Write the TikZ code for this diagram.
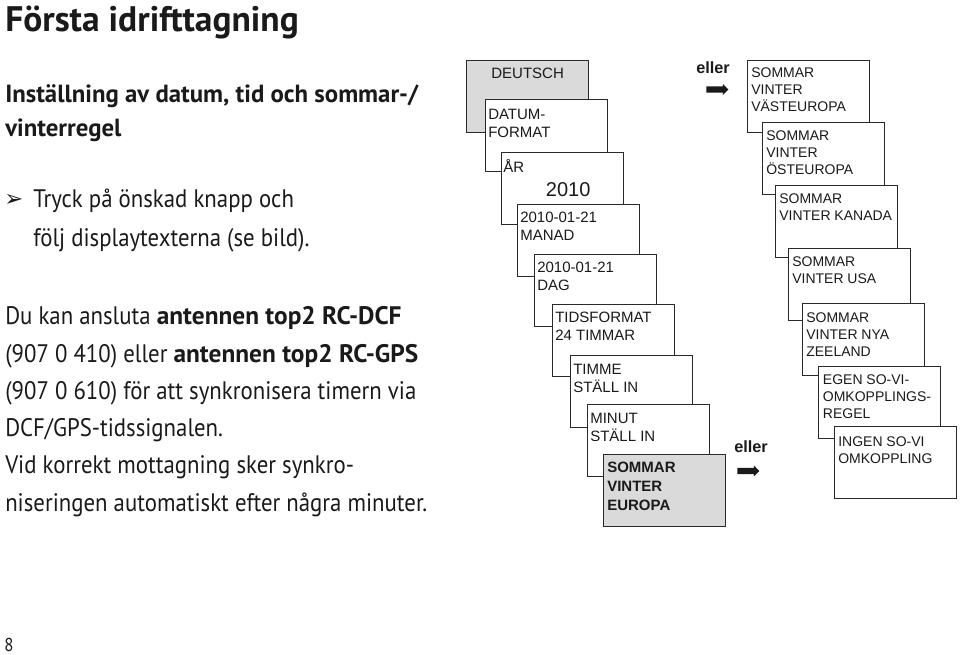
\documentclass[tikz,border=0pt]{standalone}
\usepackage{fontspec}
\setmainfont{Liberation Sans}
\newfontfamily\cond[FakeStretch=0.9, BoldFeatures={FakeStretch=1.0}]{PT Sans}
\newfontfamily\dejavu{DejaVu Sans}
\usetikzlibrary{shapes.arrows}
\definecolor{ink}{HTML}{1A1A1A}
\definecolor{boxline}{HTML}{2A2A2A}
\definecolor{panelgray}{HTML}{DADADA}
\newcommand\twol[2]{\vtop{\hbox{#1}\hbox{#2}}}
\newcommand\threel[3]{\vtop{\hbox{#1}\hbox{#2}\hbox{#3}}}
\tikzset{
  panel/.style={draw=boxline, line width=0.9pt, fill=white, minimum width=91.5pt,
    minimum height=54pt, inner sep=0pt, anchor=north west},
  graypanel/.style={panel, fill=panelgray},
  ltxt/.style={anchor=base west, inner sep=0pt, text=ink,
    font=\fontsize{11.25pt}{13.5pt}\selectfont},
  rtxt/.style={anchor=base west, inner sep=0pt, text=ink,
    font=\fontsize{10.5pt}{12.75pt}\selectfont},
  orword/.style={anchor=base west, inner sep=0pt, text=ink,
    font=\fontsize{12.2pt}{14pt}\selectfont\bfseries},
  blockarrow/.style={single arrow, fill=ink, draw=none, minimum height=16.5pt,
    inner sep=2.2pt, single arrow head extend=1.6pt, anchor=west},
  prose/.style={anchor=base west, inner sep=0pt, text=ink,
    font=\cond\fontsize{19pt}{22pt}\selectfont},
}
\begin{document}
\begin{tikzpicture}[x=0.75pt,y=-0.75pt]
\useasboundingbox (0,0) rectangle (960,655);
\fill[white] (0,0) rectangle (960,655);

% ---------- left text ----------
\node[prose, font=\cond\fontsize{26.6pt}{30pt}\selectfont\bfseries] (title) at (5,32) {Första idrifttagning};
\node[prose, font=\cond\fontsize{18.6pt}{22pt}\selectfont\bfseries] (sub1) at (5,103) {Inställning av datum, tid och sommar-/};
\node[prose, font=\cond\fontsize{18.6pt}{22pt}\selectfont\bfseries] (sub2) at (5,137) {vinterregel};
\node[prose, font=\dejavu\fontsize{17pt}{20pt}\selectfont] (bul) at (4,207) {➢};
\node[prose] (b1) at (33,208) {Tryck på önskad knapp och};
\node[prose] (b2) at (33,247) {följ displaytexterna (se bild).};
\node[prose] (p1) at (5,325) {Du kan ansluta \textbf{antennen top2 RC-DCF}};
\node[prose] (p2) at (5,363) {(907 0 410) eller \textbf{antennen top2 RC-GPS}};
\node[prose] (p3) at (5,400) {(907 0 610) för att synkronisera timern via};
\node[prose] (p4) at (5,437) {DCF/GPS-tidssignalen.};
\node[prose] (p5) at (5,474) {Vid korrekt mottagning sker synkro-};
\node[prose] (p6) at (5,512) {niseringen automatiskt efter några minuter.};
\node[prose, font=\cond\fontsize{14pt}{16pt}\selectfont] (pg) at (4,651) {8};

% ---------- left cascade ----------
\node[graypanel] (L0) at (466,60) {};
\node[ltxt, anchor=base] (L0t) at ([yshift=-14.25pt]L0.north) {DEUTSCH};
\node[panel] (L1) at (485,99) {};
\node[ltxt] (L1t) at ([xshift=2.25pt,yshift=-15.5pt]L1.north west) {\twol{DATUM-}{FORMAT}};
\node[panel] (L2) at (501,152) {};
\node[ltxt] (L2t) at ([xshift=1.5pt,yshift=-15.5pt]L2.north west) {ÅR};
\node[ltxt, font=\fontsize{15pt}{18pt}\selectfont] (L2v) at ([xshift=33.5pt,yshift=-33.75pt]L2.north west) {2010};
\node[panel] (L3) at (517,204) {};
\node[ltxt] (L3t) at ([xshift=2.25pt,yshift=-14.25pt]L3.north west) {\twol{2010-01-21}{MANAD}};
\node[panel] (L4) at (534,254) {};
\node[ltxt] (L4t) at ([xshift=2.25pt,yshift=-14.25pt]L4.north west) {\twol{2010-01-21}{DAG}};
\node[panel] (L5) at (552,304) {};
\node[ltxt] (L5t) at ([xshift=2.25pt,yshift=-14.25pt]L5.north west) {\twol{TIDSFORMAT}{24 TIMMAR}};
\node[panel] (L6) at (570,355) {};
\node[ltxt] (L6t) at ([xshift=2.25pt,yshift=-15pt]L6.north west) {\twol{TIMME}{STÄLL IN}};
\node[panel] (L7) at (587,404) {};
\node[ltxt] (L7t) at ([xshift=2.25pt,yshift=-15pt]L7.north west) {\twol{MINUT}{STÄLL IN}};
\node[graypanel] (L8) at (603,454) {};
\node[ltxt, font=\fontsize{11.25pt}{13.9pt}\selectfont\bfseries] (L8t) at ([xshift=3pt,yshift=-14.25pt]L8.north west) {\threel{SOMMAR}{VINTER}{EUROPA}};

% ---------- right cascade ----------
\node[panel] (R0) at (747,60) {};
\node[rtxt] (R0t) at ([xshift=3pt,yshift=-13.5pt]R0.north west) {\threel{SOMMAR}{VINTER}{VÄSTEUROPA}};
\node[panel] (R1) at (762,122) {};
\node[rtxt] (R1t) at ([xshift=3pt,yshift=-14.25pt]R1.north west) {\threel{SOMMAR}{VINTER}{ÖSTEUROPA}};
\node[panel] (R2) at (775,185) {};
\node[rtxt] (R2t) at ([xshift=3pt,yshift=-14.25pt]R2.north west) {\twol{SOMMAR}{VINTER KANADA}};
\node[panel] (R3) at (788,248) {};
\node[rtxt] (R3t) at ([xshift=3pt,yshift=-14.25pt]R3.north west) {\twol{SOMMAR}{VINTER USA}};
\node[panel] (R4) at (802,303) {};
\node[rtxt] (R4t) at ([xshift=3pt,yshift=-15pt]R4.north west) {\threel{SOMMAR}{VINTER NYA}{ZEELAND}};
\node[panel] (R5) at (818,366) {};
\node[rtxt] (R5t) at ([xshift=3.5pt,yshift=-14.25pt]R5.north west) {\threel{EGEN SO-VI-}{OMKOPPLINGS-}{REGEL}};
\node[panel] (R6) at (834,426) {};
\node[rtxt] (R6t) at ([xshift=3pt,yshift=-15.75pt]R6.north west) {\twol{INGEN SO-VI}{OMKOPPLING}};

% ---------- "eller" markers ----------
\node[orword] (or1) at (696,74) {eller};
\node[blockarrow] (ar1) at (706,89.5) {};
\node[orword] (or2) at (734,453) {eller};
\node[blockarrow] (ar2) at (737,471) {};
\end{tikzpicture}
\end{document}
